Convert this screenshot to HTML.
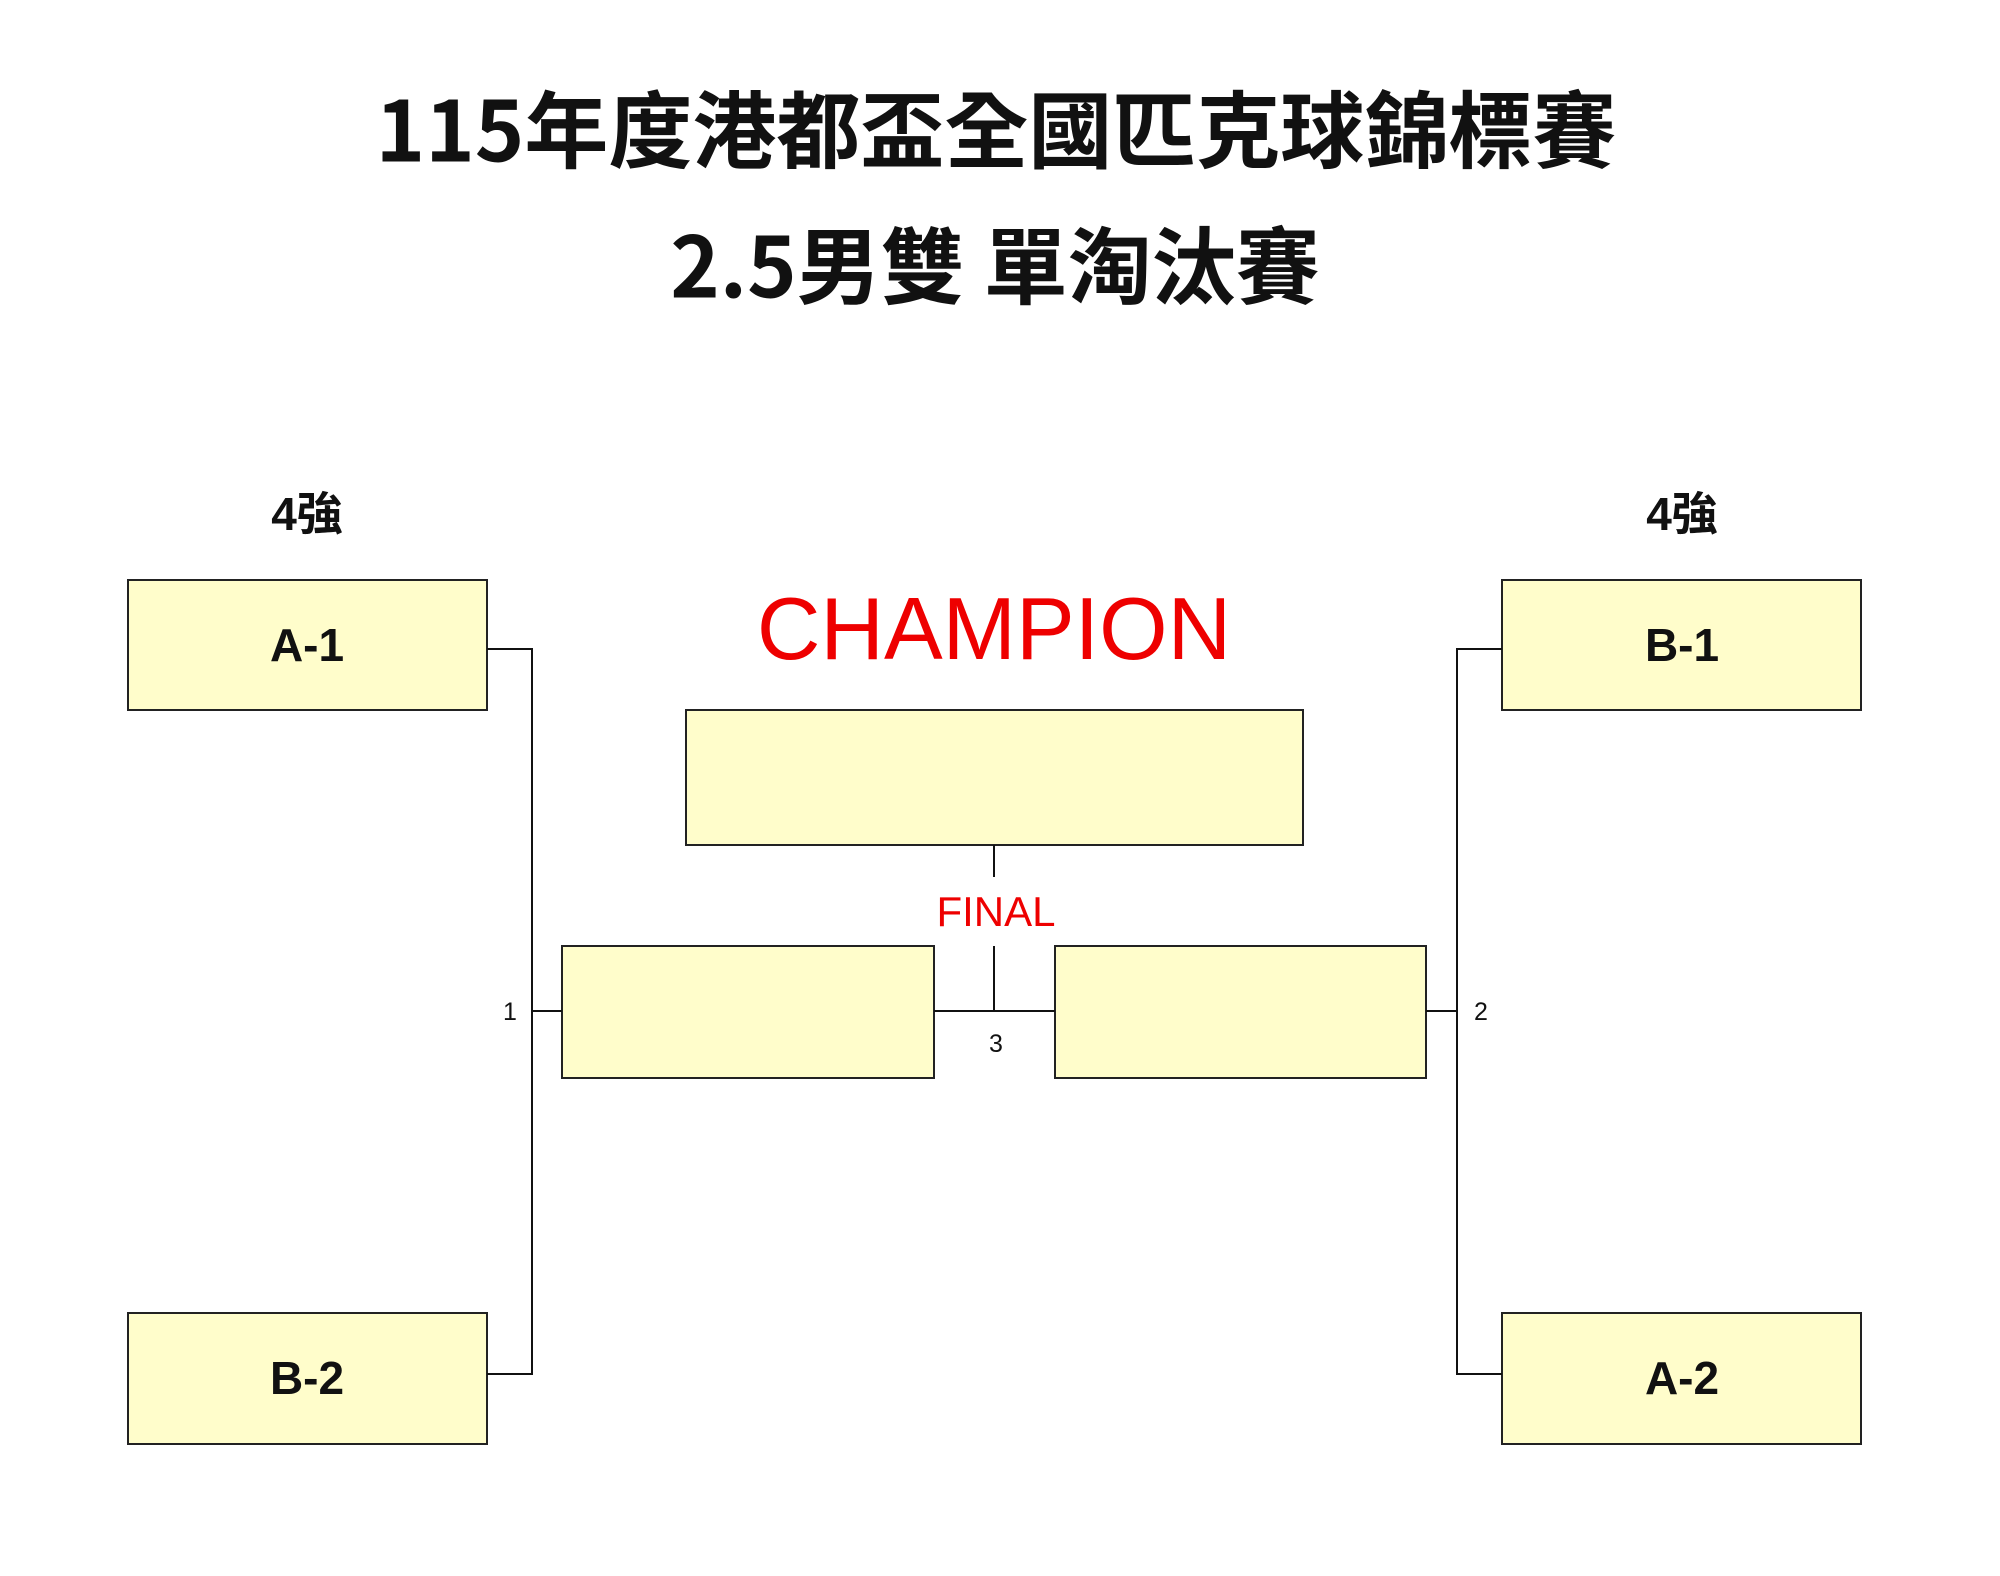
<!DOCTYPE html>
<html><head><meta charset="utf-8"><style>
html,body{margin:0;padding:0;background:#fff}
svg{display:block}
.t{font-family:"Liberation Sans","Noto Sans CJK TC",sans-serif;}
.c{font-family:"Noto Sans CJK TC","Liberation Sans",sans-serif;}
</style></head><body>
<svg width="2000" height="1576" viewBox="0 0 2000 1576" xmlns="http://www.w3.org/2000/svg">
<rect width="2000" height="1576" fill="#fff"/>
<g class="c" text-anchor="middle" fill="#111">
<text x="996" y="126" font-size="84" font-weight="bold" dominant-baseline="central">115年度港都盃全國匹克球錦標賽</text>
<text x="995" y="262" font-size="84" font-weight="bold" dominant-baseline="central">2.5男雙 單淘汰賽</text>
</g>
<g class="t" text-anchor="middle" fill="#111">
<text x="307" y="514" font-size="46" font-weight="bold" dominant-baseline="central">4強</text>
<text x="1682" y="514" font-size="46" font-weight="bold" dominant-baseline="central">4強</text>
</g>
<g fill="#FFFDCB" stroke="#222" stroke-width="2">
<rect x="128" y="580" width="359" height="130"/>
<rect x="128" y="1313" width="359" height="131"/>
<rect x="1502" y="580" width="359" height="130"/>
<rect x="1502" y="1313" width="359" height="131"/>
<rect x="686" y="710" width="617" height="135"/>
<rect x="562" y="946" width="372" height="132"/>
<rect x="1055" y="946" width="371" height="132"/>
</g>
<g fill="none" stroke="#111" stroke-width="2">
<polyline points="487,649 532,649 532,1374 487,1374"/>
<line x1="532" y1="1011" x2="562" y2="1011"/>
<polyline points="1502,649 1457,649 1457,1374 1502,1374"/>
<line x1="1426" y1="1011" x2="1457" y2="1011"/>
<line x1="934" y1="1011" x2="1055" y2="1011"/>
<line x1="994" y1="845" x2="994" y2="877"/>
<line x1="994" y1="946" x2="994" y2="1011"/>
</g>
<g class="t" text-anchor="middle" fill="#111" font-size="46" font-weight="bold">
<text x="307" y="645" dominant-baseline="central">A-1</text>
<text x="307" y="1378" dominant-baseline="central">B-2</text>
<text x="1682" y="645" dominant-baseline="central">B-1</text>
<text x="1682" y="1378" dominant-baseline="central">A-2</text>
</g>
<g class="t" text-anchor="middle" fill="#111" font-size="25">
<text x="510" y="1012" dominant-baseline="central">1</text>
<text x="1481" y="1012" dominant-baseline="central">2</text>
<text x="996" y="1044" dominant-baseline="central">3</text>
</g>
<g class="t" text-anchor="middle" fill="#EE0000">
<text x="994" y="659" font-size="88">CHAMPION</text>
<text x="996" y="926" font-size="42">FINAL</text>
</g>
</svg>
</body></html>
